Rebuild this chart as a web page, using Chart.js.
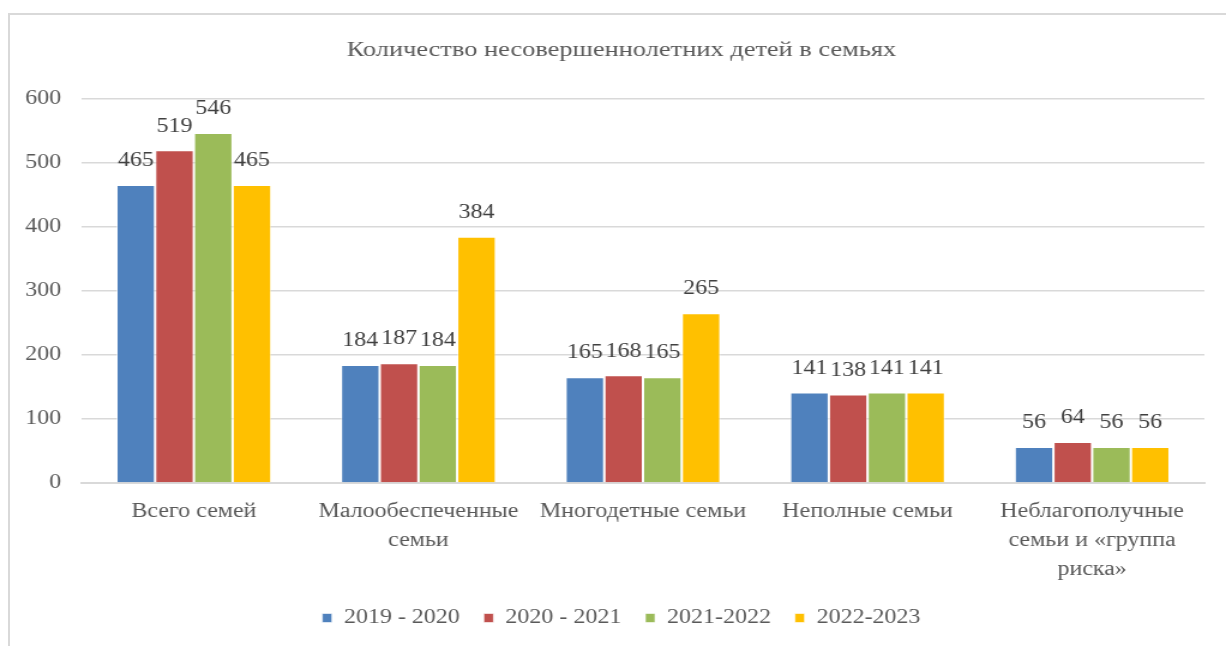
<!DOCTYPE html>
<html lang="ru">
<head>
<meta charset="utf-8">
<title>Количество несовершеннолетних детей в семьях</title>
<script src="https://cdn.jsdelivr.net/npm/chart.js@4"></script>
<style>
    html, body { margin: 0; padding: 0; background: #fff; overflow: hidden; }
    #wrap { position: relative; width: 1226px; height: 646px; }
    /* the source picture is stretched horizontally, so the canvas is too */
    #kidsChart { display: block; }
    #frame {
        position: absolute; left: 8px; top: 13px; width: 1240px; height: 660px;
        border: 2px solid #d9d9d9; pointer-events: none;
    }
</style>
</head>
<body>
<div id="wrap">
    <canvas id="kidsChart" width="1022" height="646" style="width:1226px;height:646px"></canvas>
    <div id="frame"></div>
</div>
<script>
// Categories (x axis)
const categories = [
    ['Всего семей'],
    ['Малообеспеченные', 'семьи'],
    ['Многодетные семьи'],
    ['Неполные семьи'],
    ['Неблагополучные', 'семьи и «группа', 'риска»']
];

// Series names
const seriesNames = ['2019 - 2020', '2020 - 2021', '2021-2022', '2022-2023'];

// Series values
const values2019 = [465, 184, 165, 141, 56];
const values2020 = [519, 187, 168, 138, 64];
const values2021 = [546, 184, 165, 141, 56];
const values2022 = [465, 384, 265, 141, 56];

const seriesColors = ['#4f81bd', '#c0504d', '#9bbb59', '#ffc000'];

const fontFamily = '"Liberation Serif", "Times New Roman", serif';
const textColor = '#595959';

// Draw the values above each bar
const valueLabels = {
    id: 'valueLabels',
    afterDatasetsDraw(chart) {
        const ctx = chart.ctx;
        ctx.save();
        ctx.font = '20px ' + fontFamily;
        ctx.fillStyle = '#404040';
        ctx.textAlign = 'center';
        ctx.textBaseline = 'middle';
        chart.data.datasets.forEach((ds, i) => {
            chart.getDatasetMeta(i).data.forEach((bar, j) => {
                ctx.fillText(ds.data[j], bar.x, bar.y - 24);
            });
        });
        ctx.restore();
    }
};

const createChart = () => {
    const ctx = document.getElementById('kidsChart').getContext('2d');
    const allValues = [values2019, values2020, values2021, values2022];

    new Chart(ctx, {
        type: 'bar',
        data: {
            labels: categories,
            datasets: allValues.map((vals, i) => ({
                label: seriesNames[i],
                data: vals,
                backgroundColor: seriesColors[i],
                borderColor: 'rgba(255,255,255,0.6)',
                borderWidth: 1,
                barPercentage: 1,
                categoryPercentage: 0.69
            }))
        },
        options: {
            responsive: false,
            animation: false,
            layout: {
                padding: { left: 32, right: 18, top: 0, bottom: 8 }
            },
            plugins: {
                title: {
                    display: true,
                    text: 'Количество несовершеннолетних детей в семьях',
                    color: textColor,
                    font: { family: fontFamily, size: 22, weight: 'normal' },
                    padding: { top: 37, bottom: 35 }
                },
                legend: {
                    position: 'bottom',
                    labels: {
                        color: textColor,
                        font: { family: fontFamily, size: 20 },
                        boxWidth: 8,
                        boxHeight: 9,
                        padding: 20
                    }
                },
                tooltip: { enabled: false }
            },
            scales: {
                y: {
                    min: 0,
                    max: 600,
                    ticks: {
                        stepSize: 100,
                        color: textColor,
                        // mirrored + "far" so the labels are right-aligned left of the plot, without clipping
                        mirror: true,
                        crossAlign: 'far',
                        padding: -47,
                        font: { family: fontFamily, size: 20 }
                    },
                    grid: {
                        color: '#d9d9d9',
                        lineWidth: 1.5,
                        drawTicks: false
                    },
                    border: { display: false },
                    afterFit: (scale) => { scale.width = 36; }
                },
                x: {
                    ticks: {
                        color: textColor,
                        padding: 14,
                        maxRotation: 0,
                        autoSkip: false,
                        font: { family: fontFamily, size: 20, lineHeight: 1.45 }
                    },
                    grid: { display: false, drawTicks: false },
                    border: { display: true, color: '#d9d9d9', width: 2 },
                    afterFit: (scale) => { scale.height = 105; }
                }
            }
        },
        plugins: [valueLabels]
    });
};

createChart();
</script>
</body>
</html>
